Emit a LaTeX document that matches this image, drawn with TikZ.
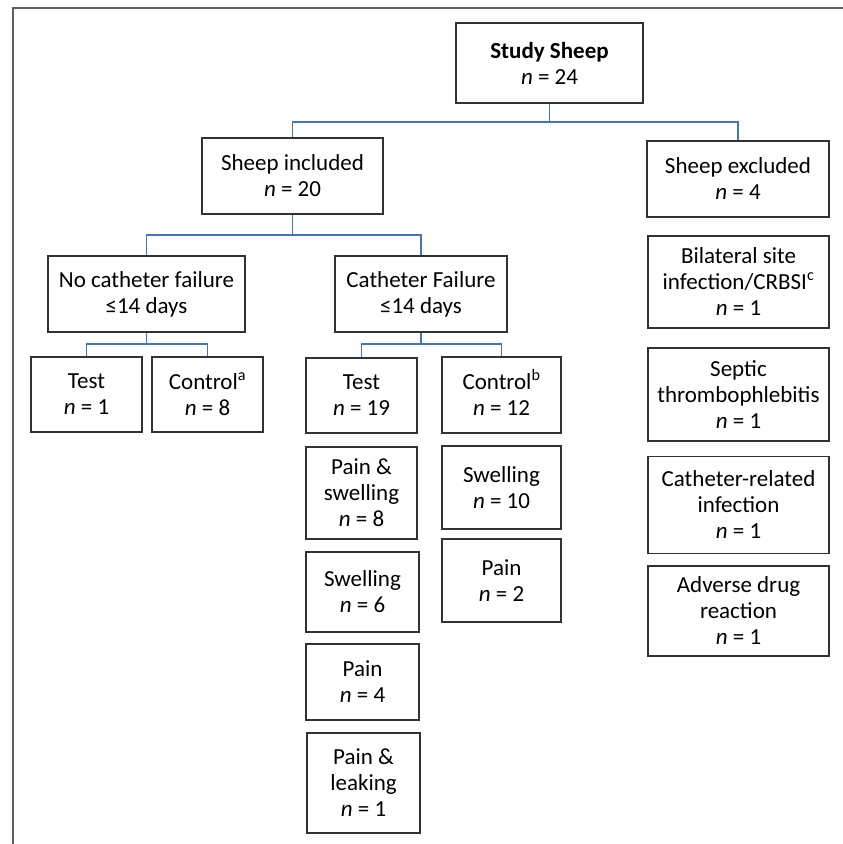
\documentclass[tikz,border=0pt]{standalone}
\usepackage{fontspec}
\setmainfont{Carlito}
\definecolor{connblue}{RGB}{68,114,196}
\definecolor{boxgray}{RGB}{50,50,50}
\definecolor{framegray}{RGB}{95,95,95}
\tikzset{
  flowbox/.style={draw=boxgray, line width=1.2pt, align=center, inner sep=0pt,
    font=\fontsize{23}{26}\selectfont},
  conn/.style={draw=connblue, line width=1.2pt},
  framel/.style={draw=framegray, line width=2pt}
}
\newcommand{\nn}[1]{\textit{n} = #1}
\newcommand{\supmark}[1]{\smash{\textsuperscript{#1}}}
\begin{document}
\begin{tikzpicture}[x=1pt,y=-1pt]
\useasboundingbox (0,0) rectangle (843,844);
\fill[white] (0,0) rectangle (843,844);
\draw[framel] (13,844) -- (13,8) -- (843,8);

\node[flowbox, minimum width=187pt, minimum height=80pt] (study) at (549.5,63) {\textbf{Study Sheep}\\\nn{24}};
\node[flowbox, minimum width=181pt, minimum height=76pt] (incl) at (292.5,176) {Sheep included\\\nn{20}};
\node[flowbox, minimum width=182pt, minimum height=76pt] (excl) at (738,179) {Sheep excluded\\\nn{4}};
\node[flowbox, minimum width=197pt, minimum height=76pt] (nofail) at (146.5,294) {No catheter failure\\≤14 days};
\node[flowbox, minimum width=172pt, minimum height=76pt] (fail) at (421,294) {Catheter Failure\\≤14 days};

\node[flowbox, minimum width=111pt, minimum height=75pt] (testA) at (86.5,394.5) {Test\\\nn{1}};
\node[flowbox, minimum width=111pt, minimum height=75pt] (ctrlA) at (207.5,394.5) {Control\supmark{a}\\\nn{8}};

\node[flowbox, minimum width=111pt, minimum height=75pt] (testB) at (361.5,395.5) {Test\\\nn{19}};
\node[flowbox, minimum width=111pt, minimum height=92pt] (psw) at (361.5,493) {Pain \&\\swelling\\\nn{8}};
\node[flowbox, minimum width=113pt, minimum height=80pt] (swsix) at (362.5,592) {Swelling\\\nn{6}};
\node[flowbox, minimum width=113pt, minimum height=76pt] (painfour) at (362.5,682) {Pain\\\nn{4}};
\node[flowbox, minimum width=113pt, minimum height=100pt] (pleak) at (363.5,783) {Pain \&\\leaking\\\nn{1}};

\node[flowbox, minimum width=119pt, minimum height=76pt] (ctrlB) at (501.5,395) {Control\supmark{b}\\\nn{12}};
\node[flowbox, minimum width=119pt, minimum height=83pt] (swten) at (501.5,487.5) {Swelling\\\nn{10}};
\node[flowbox, minimum width=119pt, minimum height=83pt] (paintwo) at (501.5,580.5) {Pain\\\nn{2}};

\node[flowbox, minimum width=181pt, minimum height=92pt] (bil) at (738.5,282) {Bilateral site\\infection/CRBSI\supmark{c}\\\nn{1}};
\node[flowbox, minimum width=181pt, minimum height=93pt] (sept) at (738.5,394.5) {Septic\\thrombophlebitis\\\nn{1}};
\node[flowbox, minimum width=181pt, minimum height=97pt] (crel) at (738.5,505) {Catheter-related\\infection\\\nn{1}};
\node[flowbox, minimum width=181pt, minimum height=90pt] (adv) at (738.5,611) {Adverse drug\\reaction\\\nn{1}};

\draw[conn] (study.south) -- (study.south |- 0,122) coordinate (busone)
  (incl.north) -- (incl.north |- busone) -- (excl.north |- busone) -- (excl.north);
\draw[conn] (incl.south) -- (incl.south |- 0,235) coordinate (bustwo)
  (nofail.north) -- (nofail.north |- bustwo) -- (fail.north |- bustwo) -- (fail.north);
\draw[conn] (nofail.south) -- (nofail.south |- 0,344) coordinate (busthree)
  (testA.north) -- (testA.north |- busthree) -- (ctrlA.north |- busthree) -- (ctrlA.north);
\draw[conn] (fail.south) -- (fail.south |- 0,344) coordinate (busfour)
  (testB.north) -- (testB.north |- busfour) -- (ctrlB.north |- busfour) -- (ctrlB.north);
\end{tikzpicture}
\end{document}
